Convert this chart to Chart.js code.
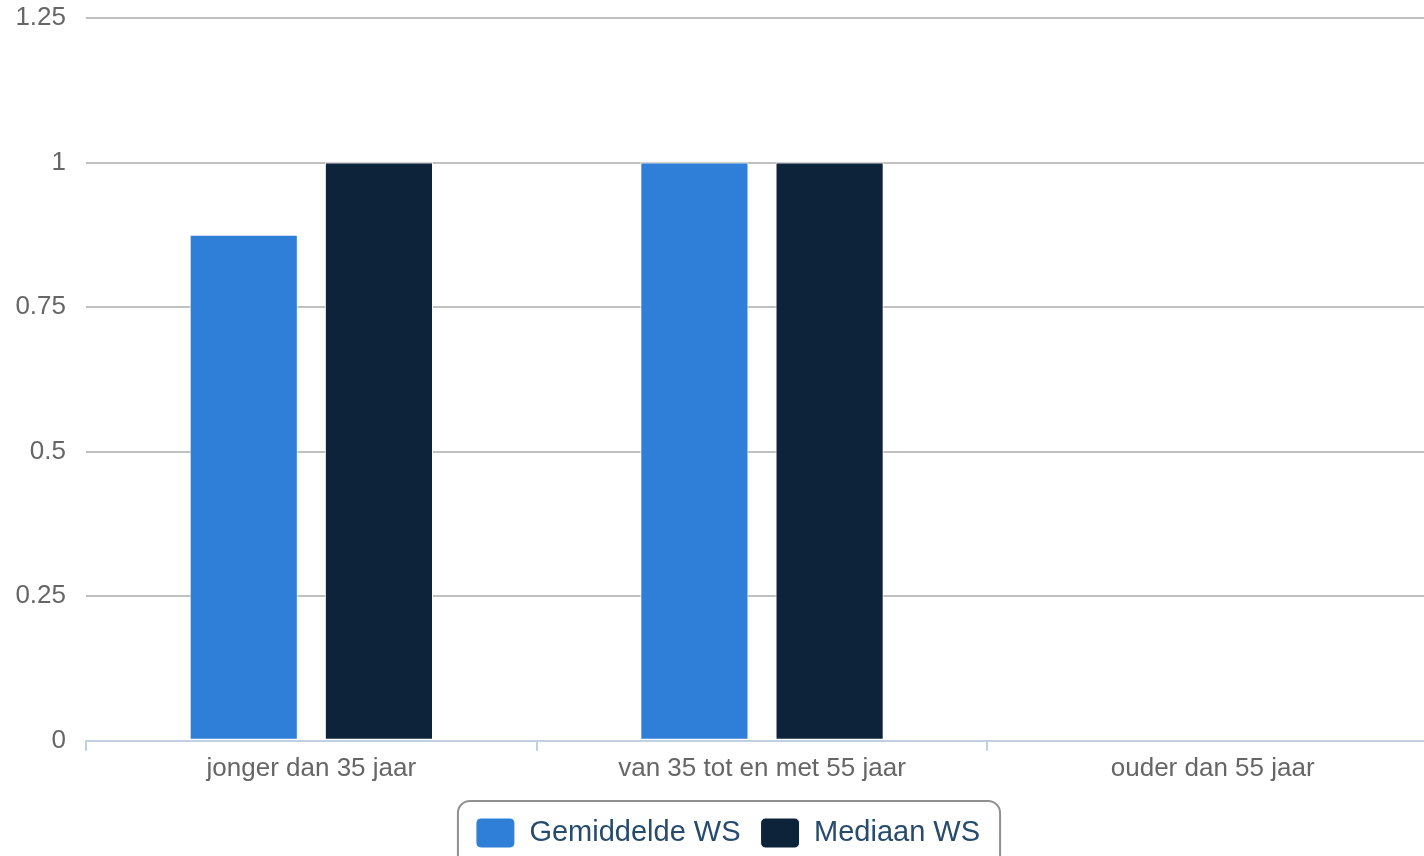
<!DOCTYPE html>
<html>
<head>
<meta charset="utf-8">
<title>WS per leeftijd</title>
<script src="https://cdn.jsdelivr.net/npm/chart.js@4/dist/chart.umd.min.js"></script>
<style>
    html, body { margin: 0; padding: 0; overflow: hidden; background: #fff; }
    #wrap { width: 1456px; height: 858px; position: relative; }
</style>
</head>
<body>
<div id="wrap"><canvas id="wsChart"></canvas></div>
<script>
// data
const categories = ['jonger dan 35 jaar', 'van 35 tot en met 55 jaar', 'ouder dan 55 jaar'];
const gemiddeldeWS = [0.875, 1, 0];
const mediaanWS = [1, 1, 0];
const yTicks = [0, 0.25, 0.5, 0.75, 1, 1.25];

const fontFamily = '"Liberation Sans", Arial, Helvetica, sans-serif';

// legend sits centred on the whole chart, not just the plot
const legendShift = {
    id: 'legendShift',
    afterLayout(chart) {
        chart.legend.left += 9;
        chart.legend.right += 9;
    }
};

// rounded box around the legend (Highcharts look)
const legendBorder = {
    id: 'legendBorder',
    afterDraw(chart) {
        const boxes = chart.legend.legendHitBoxes;
        if (!boxes || !boxes.length) return;
        let left = Infinity, right = -Infinity, top = Infinity;
        boxes.forEach(b => {
            left = Math.min(left, b.left);
            right = Math.max(right, b.left + b.width);
            top = Math.min(top, b.top);
        });
        const x = left - 18, y = top - 17, w = right - left + 38, h = 120;
        const ctx = chart.ctx;
        ctx.save();
        ctx.strokeStyle = '#909090';
        ctx.lineWidth = 2;
        ctx.beginPath();
        ctx.roundRect(x, y, w, h, 12);
        ctx.stroke();
        ctx.restore();
    }
};

const ctx = document.getElementById('wsChart').getContext('2d');
new Chart(ctx, {
    type: 'bar',
    data: {
        labels: categories,
        datasets: [{
            label: 'Gemiddelde WS',
            data: gemiddeldeWS,
            backgroundColor: '#2f7ed8',
            borderColor: '#ffffff',
            borderWidth: 1,
            borderSkipped: false
        }, {
            label: 'Mediaan WS',
            data: mediaanWS,
            backgroundColor: '#0d233a',
            borderColor: '#ffffff',
            borderWidth: 1,
            borderSkipped: false
        }]
    },
    options: {
        responsive: true,
        maintainAspectRatio: false,
        animation: false,
        categoryPercentage: 0.6,
        barPercentage: 0.8,
        layout: { padding: { left: 0, right: 18, top: 0, bottom: 0 } },
        plugins: {
            legend: {
                position: 'bottom',
                labels: {
                    color: '#274b6d',
                    font: { family: fontFamily, size: 29 },
                    boxWidth: 39,
                    boxHeight: 30,
                    useBorderRadius: true,
                    borderRadius: 5,
                    padding: 20
                }
            },
            tooltip: { enabled: true }
        },
        scales: {
            x: {
                afterFit: scale => { scale.height += 12; },
                grid: {
                    offset: true,
                    drawOnChartArea: false,
                    drawTicks: true,
                    tickLength: 10,
                    color: '#c0d0e0',
                    lineWidth: 2
                },
                border: { color: '#c0d0e0', width: 2 },
                ticks: {
                    color: '#666666',
                    font: { family: fontFamily, size: 26 },
                    padding: 2,
                    maxRotation: 0
                }
            },
            y: {
                min: 0,
                max: 1.25,
                afterBuildTicks: axis => { axis.ticks = yTicks.map(v => ({ value: v })); },
                // fixed axis width and top space, like the original
                afterFit: scale => {
                    scale.width = 86;
                    scale.paddingTop = 18;
                },
                grid: { color: '#c0c0c0', lineWidth: 2, drawTicks: false },
                border: { display: false },
                ticks: {
                    color: '#666666',
                    font: { family: fontFamily, size: 26 },
                    padding: 20,
                    callback: v => String(v)
                }
            }
        }
    },
    plugins: [legendShift, legendBorder]
});
</script>
</body>
</html>
